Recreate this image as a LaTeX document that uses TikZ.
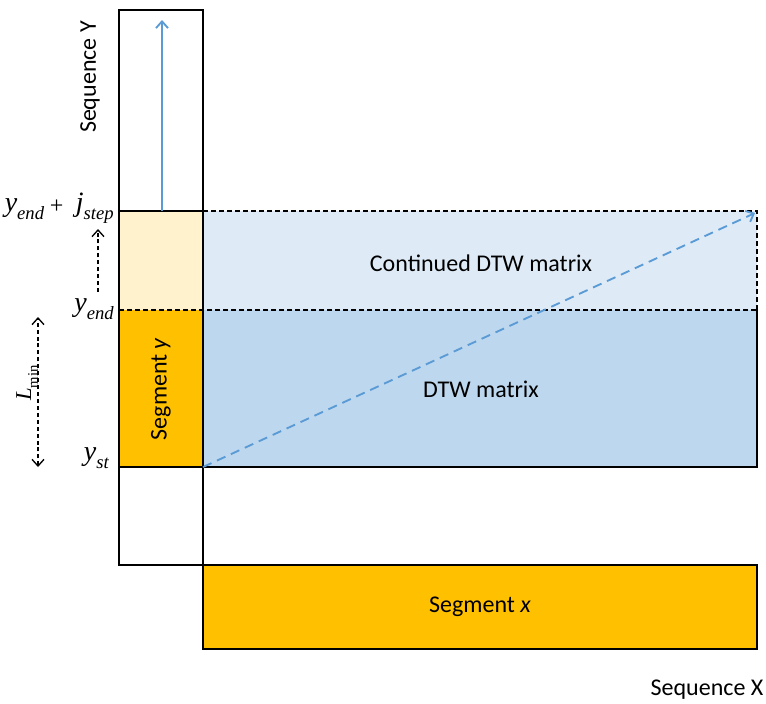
\documentclass[tikz,border=0pt]{standalone}
\usepackage{fontspec}
\setsansfont{Carlito}
\newfontfamily\tmsfont{Liberation Serif}
\usepackage{tikz}
\usetikzlibrary{arrows.meta}
\usetikzlibrary{positioning}
\usetikzlibrary{calc}

\definecolor{segorange}{HTML}{FFC000}
\definecolor{lightorange}{HTML}{FFF2CC}
\definecolor{dtwblue}{HTML}{BDD7EE}
\definecolor{contblue}{HTML}{DEEBF7}
\definecolor{arrowblue}{HTML}{5B9BD5}

% subscript in the label font
\newcommand{\lsub}[2][14]{\raisebox{-0.3em}{\fontsize{#1}{#1}\selectfont #2}}

\begin{document}
\begin{tikzpicture}[x=0.75pt, y=-0.75pt,
    >={Straight Barb[length=5pt, width=9pt]},
    lbl/.style={font=\sffamily\fontsize{18}{21}\selectfont},
    mlbl/.style={font=\tmsfont\itshape\fontsize{21}{24}\selectfont, inner sep=0pt},
    box/.style={draw=black, line width=1.1pt},
    dashbox/.style={draw=black, line width=1.1pt, dash pattern=on 3.5pt off 2.5pt},
    guide/.style={black, line width=1pt, dash pattern=on 3pt off 2.2pt},
    path/.style={arrowblue, line width=1.4pt}]

\useasboundingbox (0,0) rectangle (766,703);

% corners
\def\XL{119}
\def\XM{203}
\def\XR{757}

\coordinate (ystep) at (\XL,211);
\coordinate (yend) at (\XL,310);
\coordinate (yst) at (\XL,467);

% fills
\fill[lightorange] (\XL,211) rectangle (\XM,310);
\fill[segorange] (\XL,310) rectangle (\XM,467);
\fill[contblue] (\XM,211) rectangle (\XR,310);
\fill[dtwblue] (\XM,310) rectangle (\XR,467);

% sequence Y column
\draw[box] (\XL,10) rectangle (\XM,565);
\draw[box] (ystep) -- (\XM,211);
\draw[box] (yst) -- (\XR,467) -- (\XR,310);
\draw[dashbox] (\XM,211) -- (\XR,211) -- (\XR,310);
\draw[dashbox] (yend) -- (\XR,310);

% segment x
\draw[box, fill=segorange] (\XM,565) rectangle (\XR,649);

% warping directions
\coordinate (arrbot) at (162,211);
\coordinate (arrtop) at (162,20);
\draw[path, ->] (arrbot) -- (arrtop);
\coordinate (diagst) at (\XM,467);
\coordinate (diagend) at (755,213);
\draw[path, ->, dash pattern=on 7pt off 4.5pt] (diagst) -- (diagend);

% texts
\node[lbl, rotate=90] (seqy) at (90,77) {Sequence Y};
\node[lbl] (seqx) at (707,690) {Sequence X};
\node[lbl] (contdtw) at (481,263) {Continued DTW matrix};
\node[lbl] (dtw) at (481,389) {DTW matrix};
\node[lbl] (segx) at (480,607) {Segment \textit{x}};
\node[lbl, rotate=90] (segy) at (161,389) {Segment \textit{y}};

\node[mlbl, anchor=base east] (lblstep) at (114,211)
    {y\lsub{end}\hspace{0.2em}\raisebox{-0.1em}{\fontsize{18}{18}\selectfont\upshape+}\hspace{0.45em}j\lsub{step}};
\node[mlbl, anchor=base east] (lblend) at (114,311) {y\lsub{end}};
\node[mlbl, anchor=base east] (lblst) at (109,460) {y\lsub{st}};

% length guides
\coordinate (stepbot) at (98,292);
\coordinate (steptop) at (98,229);
\draw[guide, ->] (stepbot) -- (steptop);
\coordinate (lmintop) at (38,317);
\coordinate (lminbot) at (38,467);
\draw[guide, <->] (lminbot) -- (lmintop);
\node[mlbl, rotate=90, anchor=base, font=\tmsfont\itshape\fontsize{17}{20}\selectfont]
    (lmin) at (31,383) {L\lsub[11]{\upshape min}};

\end{tikzpicture}
\end{document}
